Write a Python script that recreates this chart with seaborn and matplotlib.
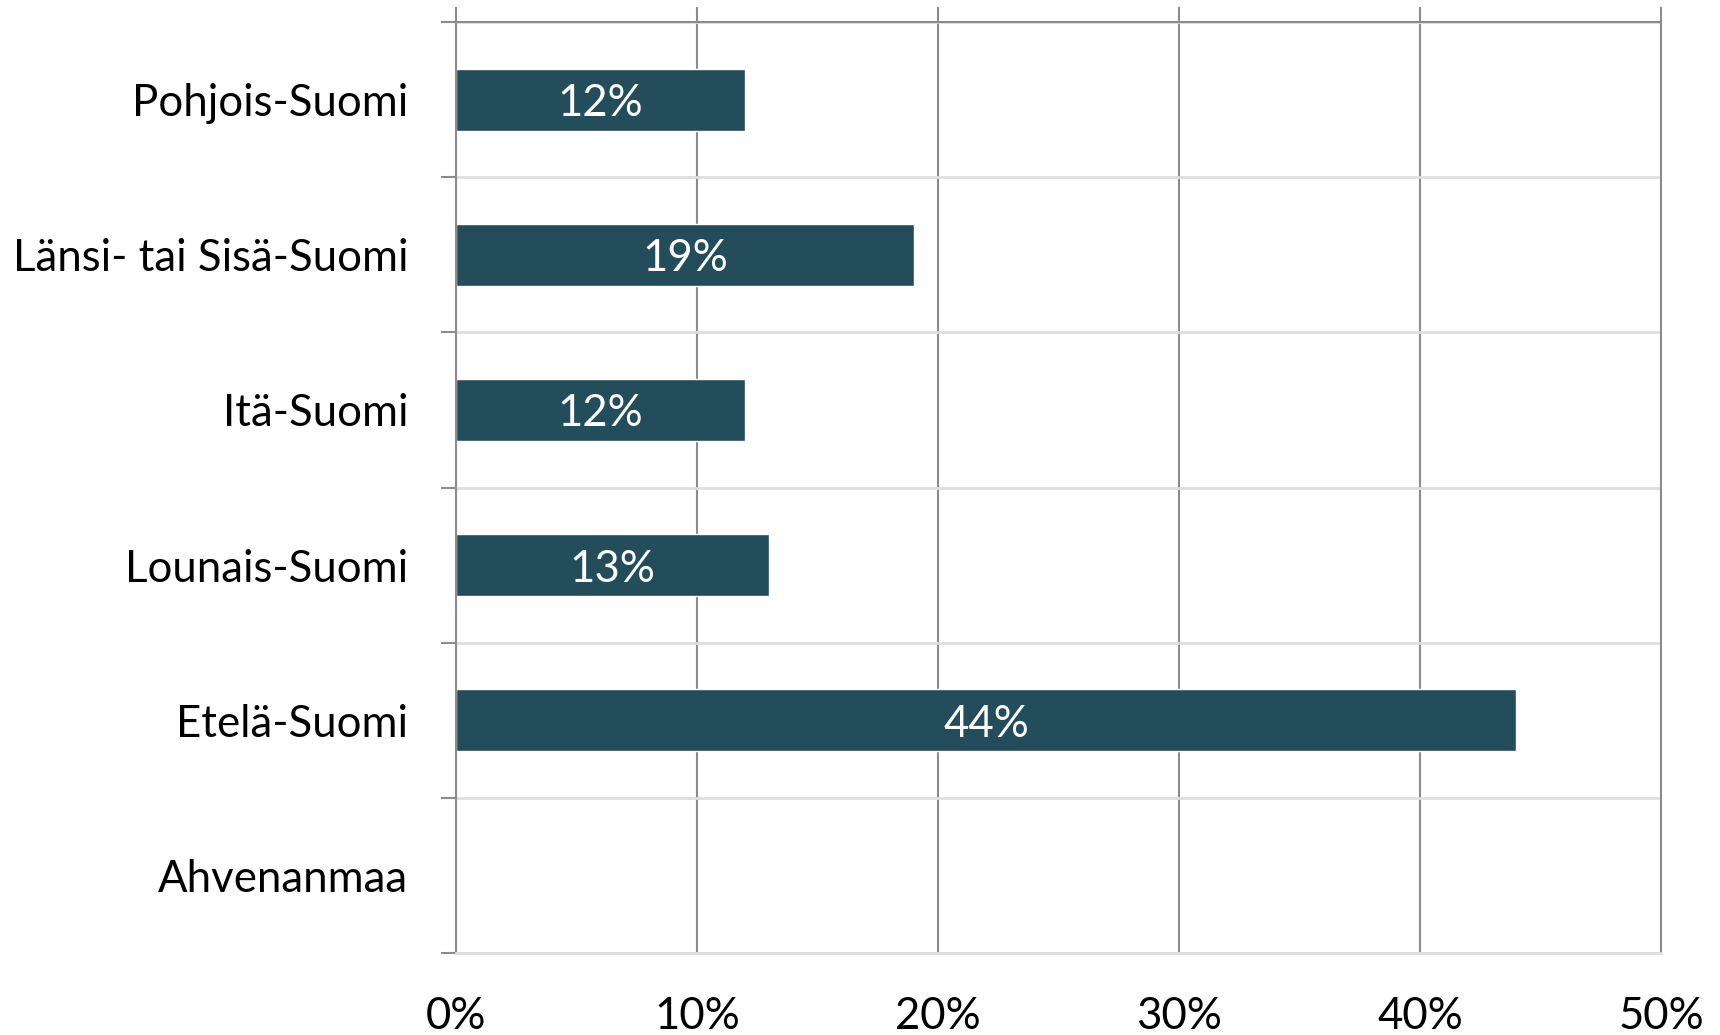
import matplotlib
matplotlib.use("Agg")
import matplotlib.pyplot as plt
import seaborn as sns
import pandas as pd
from matplotlib.ticker import FixedLocator, PercentFormatter

regions = ["Pohjois-Suomi", "Länsi- tai Sisä-Suomi", "Itä-Suomi",
           "Lounais-Suomi", "Etelä-Suomi", "Ahvenanmaa"]
shares = [12, 19, 12, 13, 44, 0]
x_ticks = [0, 10, 20, 30, 40, 50]

df = pd.DataFrame({"region": regions, "share": shares})

sns.set_style("white")
plt.rcParams["font.family"] = ["Lato", "DejaVu Sans"]

BAR = "#234d5b"
DARK = "#8c8c8c"
LIGHT = "#dedede"
FS = 31.5
TICK = 10.8

fig = plt.figure(figsize=(17.2, 10.35), dpi=100)
ax = fig.add_axes([0.2651, 0.0792, 0.9657 - 0.2651, 0.9787 - 0.0792])

sns.barplot(data=df, x="share", y="region", orient="h", color=BAR,
            width=0.4, saturation=1, ax=ax)

ax.set_xlim(0, 50)
ax.set_ylim(len(regions) - 0.5, -0.5)
ax.set_xlabel("")
ax.set_ylabel("")

# value axis: vertical gridlines poking above the top edge
ax.xaxis.set_major_locator(FixedLocator(x_ticks))
ax.xaxis.set_major_formatter(PercentFormatter(decimals=0))
ax.tick_params(axis="x", which="major", top=True, bottom=False,
               labeltop=False, labelbottom=True, direction="out",
               length=TICK, width=1.5, color=DARK, pad=20,
               labelsize=FS, labelcolor="black")
ax.grid(axis="x", which="major", color=DARK, linewidth=1.5)

# category axis: labels at centres, tick marks and light lines at boundaries
ax.yaxis.set_minor_locator(FixedLocator([i - 0.5 for i in range(len(regions) + 1)]))
ax.tick_params(axis="y", which="major", left=False, length=0, pad=34.5,
               labelsize=FS, labelcolor="black")
ax.tick_params(axis="y", which="minor", left=True, direction="out",
               length=TICK, width=1.5, color=DARK)
ax.grid(axis="y", which="minor", color=LIGHT, linewidth=2)
ax.grid(axis="y", which="major", visible=False)
ax.set_axisbelow(True)

for side in ["left", "top", "right"]:
    ax.spines[side].set_color(DARK)
    ax.spines[side].set_linewidth(1.5)
ax.spines["bottom"].set_color(LIGHT)
ax.spines["bottom"].set_linewidth(2)

for patch, val in zip(ax.patches, shares):
    if val <= 0:
        continue
    ax.text(patch.get_x() + patch.get_width() / 2,
            patch.get_y() + patch.get_height() / 2,
            f"{val}%", ha="center", va="center_baseline",
            color="white", fontsize=FS)

fig.savefig("out.png", dpi=100)
